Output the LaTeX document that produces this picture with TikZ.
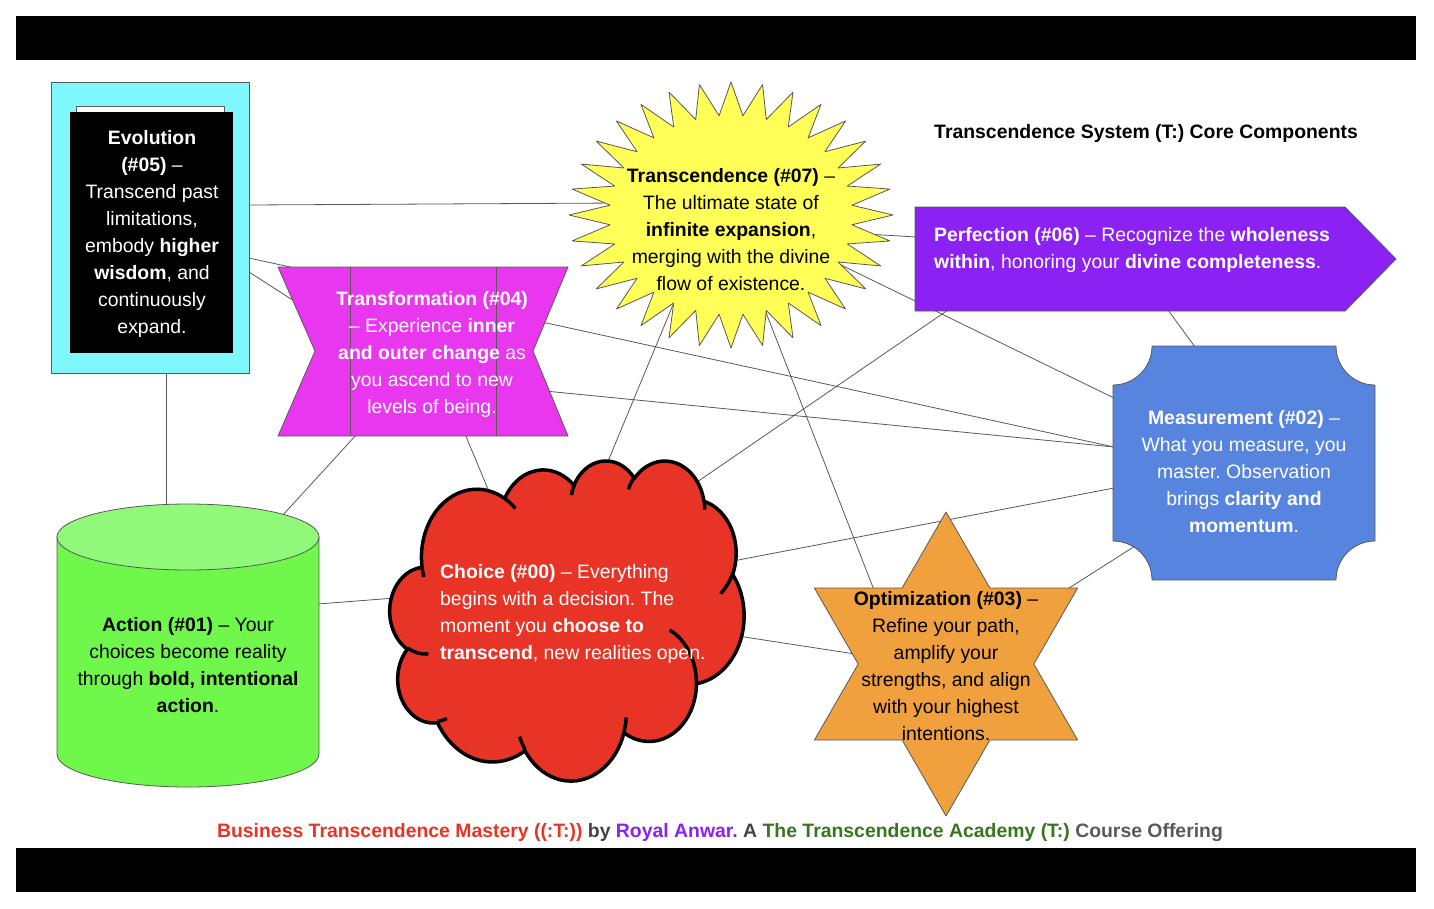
\documentclass[tikz,border=0pt]{standalone}
\usepackage{fontspec}
\setmainfont{Liberation Sans}
\frenchspacing
\definecolor{edge}{HTML}{595959}
\definecolor{evocyan}{HTML}{7EF8FC}
\definecolor{transpink}{HTML}{E937F0}
\definecolor{sunyellow}{HTML}{FFFF57}
\definecolor{perfpurple}{HTML}{8B21F2}
\definecolor{measblue}{HTML}{5684DE}
\definecolor{choicered}{HTML}{E83427}
\definecolor{optorange}{HTML}{F0A03C}
\definecolor{actgreen}{HTML}{6FF74B}
\definecolor{acttop}{HTML}{91F97A}
\definecolor{footgreen}{HTML}{38761D}
\definecolor{footgray}{HTML}{434343}

\begin{document}
\begin{tikzpicture}[x=1pt, y=-1pt, line join=round, shp/.style={draw=edge, line width=0.8pt}, lnk/.style={draw=edge, line width=0.8pt}, puff/.style={draw=black, line width=3.5pt}, txt/.style={font=\fontsize{19.4}{27}\selectfont, inner sep=0pt, align=#1}, txt/.default=center]
	\fill[white] (0,0) rectangle (1434,908);
	\fill[black] (16,16) rectangle (1416,60);
	\fill[black] (16,848) rectangle (1416,892);

	% where the connectors meet the shapes
	\coordinate (evo1) at (249,205);
	\coordinate (evo2) at (249,258);
	\coordinate (evo3) at (249,272);
	\coordinate (evo4) at (166,373);
	\coordinate (act1) at (166,510);
	\coordinate (act2) at (282,516);
	\coordinate (act3) at (318,604);
	\coordinate (trans1) at (305,308);
	\coordinate (trans2) at (357,434);
	\coordinate (trans3) at (465,434);
	\coordinate (trans4) at (545,391);
	\coordinate (sun1) at (620,203);
	\coordinate (sun2) at (675,300);
	\coordinate (sun3) at (765,310);
	\coordinate (sun4) at (850,233);
	\coordinate (sun5) at (835,262);
	\coordinate (cho1) at (395,598);
	\coordinate (cho2) at (490,494);
	\coordinate (cho3) at (606,466);
	\coordinate (cho4) at (697,482);
	\coordinate (cho5) at (733,561);
	\coordinate (cho6) at (738,636);
	\coordinate (perf1) at (948,310);
	\coordinate (perf2) at (916,237);
	\coordinate (perf3) at (1168,310);
	\coordinate (meas1) at (1114,447);
	\coordinate (meas2) at (1114,488);
	\coordinate (meas3) at (1114,398);
	\coordinate (meas4) at (1195,347);
	\coordinate (meas5) at (1135,546);
	\coordinate (opt1) at (855,654);
	\coordinate (opt2) at (874,590);
	\coordinate (opt3) at (1066,590);

	\draw[lnk] (evo1) -- (sun1);
	\draw[lnk] (evo2) -- (meas1);
	\draw[lnk] (evo3) -- (trans1);
	\draw[lnk] (evo4) -- (act1);
	\draw[lnk] (act2) -- (trans2);
	\draw[lnk] (act3) -- (cho1);
	\draw[lnk] (trans3) -- (cho2);
	\draw[lnk] (trans4) -- (meas1);
	\draw[lnk] (cho3) -- (sun2);
	\draw[lnk] (cho4) -- (perf1);
	\draw[lnk] (cho5) -- (meas2);
	\draw[lnk] (cho6) -- (opt1);
	\draw[lnk] (sun3) -- (opt2);
	\draw[lnk] (sun4) -- (perf2);
	\draw[lnk] (sun5) -- (meas3);
	\draw[lnk] (perf3) -- (meas4);
	\draw[lnk] (meas5) -- (opt3);

	% evolution
	\draw[shp, fill=evocyan] (51,82) rectangle (249,373);
	\draw[shp, fill=white] (76,106) rectangle (224,130);
	\fill[black] (70,112) rectangle (233,353);
	\node[txt, text=white] (evo) at (152,234) {\textbf{Evolution}\\\textbf{(\#05)} –\\Transcend past\\limitations,\\embody \textbf{higher}\\\textbf{wisdom}, and\\continuously\\expand.};

	% transformation
	\draw[shp, fill=transpink] (278,267) -- (568,267) -- (533,351) -- (568,436) -- (278,436) -- (315,351) -- cycle;
	\draw[shp] (350,267) -- (350,436) (496,267) -- (496,436);
	\node[txt, text=white] (trans) at (432,354) {\textbf{Transformation (\#04)}\\– Experience \textbf{inner}\\\textbf{and outer change} as\\you ascend to new\\levels of being.};

	% transcendence
	\draw[shp, fill=sunyellow] plot[samples at={0,...,63}] ({731+(162-40.5*mod(\x,2))*cos(90+5.625*\x)}, {215-(133-33.25*mod(\x,2))*sin(90+5.625*\x)}) -- cycle;
	\node[txt] (sun) at (731,229.5) {\textbf{Transcendence (\#07)} –\\The ultimate state of\\\textbf{infinite expansion},\\merging with the divine\\flow of existence.};

	% perfection
	\draw[shp, fill=perfpurple] (915,207) -- (1345,207) -- (1396,259) -- (1345,311) -- (915,311) -- cycle;
	\node[txt=left, text=white, anchor=west] (perf) at (934,249.5) {\textbf{Perfection (\#06)} – Recognize the \textbf{wholeness}\\\textbf{within}, honoring your \textbf{divine completeness}.};

	% measurement
	\draw[shp, fill=measblue] (1152,346) -- (1336,346) arc[start angle=180, end angle=90, radius=39] -- (1375,541) arc[start angle=270, end angle=180, radius=39] -- (1152,580) arc[start angle=0, end angle=-90, radius=39] -- (1113,385) arc[start angle=90, end angle=0, radius=39] -- cycle;
	\node[txt, text=white] (meas) at (1244,471.5) {\textbf{Measurement (\#02)} –\\What you measure, you\\master. Observation\\brings \textbf{clarity and}\\\textbf{momentum}.};

	% action
	\draw[shp, fill=actgreen] (57,537) -- (57,754) arc[start angle=180, end angle=0, x radius=131, y radius=33] -- (319,537) -- cycle;
	\draw[shp, fill=acttop] (188,537) ellipse[x radius=131, y radius=33];
	\node[txt] (act) at (188,665) {\textbf{Action (\#01)} – Your\\choices become reality\\through \textbf{bold, intentional}\\\textbf{action}.};

	% choice
	\begin{scope}[shift={(390,460)}, x=0.81944pt, y=-0.74074pt]
		\draw[puff, fill=choicered] (39.00,143.70)
			arc[start angle=172.25, end angle=300.30, x radius=67.53, y radius=91.90]
			arc[start angle=207.96, end angle=314.56, x radius=53.33, y radius=72.67]
			arc[start angle=206.50, end angle=322.67, x radius=43.65, y radius=59.45]
			arc[start angle=220.28, end angle=349.78, x radius=48.57, y radius=65.95]
			arc[start angle=285.23, end angle=383.21, x radius=53.33, y radius=72.73]
			arc[start angle=-37.53, end angle=81.87, x radius=67.75, y radius=92.20]
			arc[start angle=0.46, end angle=121.98, x radius=57.85, y radius=78.67]
			arc[start angle=16.85, end angle=146.21, x radius=67.52, y radius=92.15]
			arc[start angle=58.98, end angle=150.19, x radius=77.20, y radius=105.43]
			arc[start angle=83.31, end angle=223.12, x radius=43.60, y radius=59.18]
			arc[start angle=120.35, end angle=264.11, x radius=43.45, y radius=59.45]
			-- cycle;
		\draw[puff] (46.93,261.77) arc[start angle=85.54, end angle=120.35, x radius=43.45, y radius=59.45];
		\draw[puff] (69.28,348.99) arc[start angle=68.23, end angle=83.31, x radius=43.60, y radius=59.18];
		\draw[puff] (164.78,390.90) arc[start angle=146.21, end angle=158.47, x radius=67.52, y radius=92.15];
		\draw[puff] (288.27,347.51) arc[start angle=4.74, end angle=16.85, x radius=67.52, y radius=92.15];
		\draw[puff] (341.29,229.54) arc[start angle=-64.03, end angle=0.46, x radius=57.85, y radius=78.67];
		\draw[puff] (417.98,153.54) arc[start angle=23.21, end angle=49.64, x radius=53.33, y radius=72.73];
		\draw[puff] (383.24,54.26) arc[start angle=-10.22, end angle=0.83, x radius=48.57, y radius=65.95];
		\draw[puff] (290.78,39.52) arc[start angle=203.71, end angle=220.28, x radius=48.57, y radius=65.95];
		\draw[puff] (221.41,47.20) arc[start angle=192.28, end angle=206.50, x radius=43.65, y radius=59.45];
		\draw[puff] (140.00,51.92) arc[start angle=300.30, end angle=314.26, x radius=67.53, y radius=91.90];
		\draw[puff] (41.27,157.89) arc[start angle=163.20, end angle=172.25, x radius=67.53, y radius=91.90];
	\end{scope}
	\node[txt=left, text=white, anchor=west] (cho) at (440,613.5) {\textbf{Choice (\#00)} – Everything\\begins with a decision. The\\moment you \textbf{choose to}\\\textbf{transcend}, new realities open.};

	% optimization
	\draw[shp, fill=optorange] (946,512) -- (989.9,588) -- (1077.6,588) -- (1033.8,664) -- (1077.6,740) -- (989.9,740) -- (946,816) -- (902.1,740) -- (814.4,740) -- (858.2,664) -- (814.4,588) -- (902.1,588) -- cycle;
	\node[txt] (opt) at (946,666) {\textbf{Optimization (\#03)} –\\Refine your path,\\amplify your\\strengths, and align\\with your highest\\intentions.};

	% title and footer
	\node[txt, anchor=west] (title) at (934,133) {\textbf{Transcendence System (T:) Core Components}};
	\node[txt] (foot) at (720,833) {\bfseries\textcolor{choicered}{Business Transcendence Mastery ((:T:))} \textcolor{footgray}{by} \textcolor{perfpurple}{Royal Anwar.} \textcolor{footgray}{A} \textcolor{footgreen}{The Transcendence Academy (T:)} \textcolor{edge}{Course Offering}};
\end{tikzpicture}
\end{document}
